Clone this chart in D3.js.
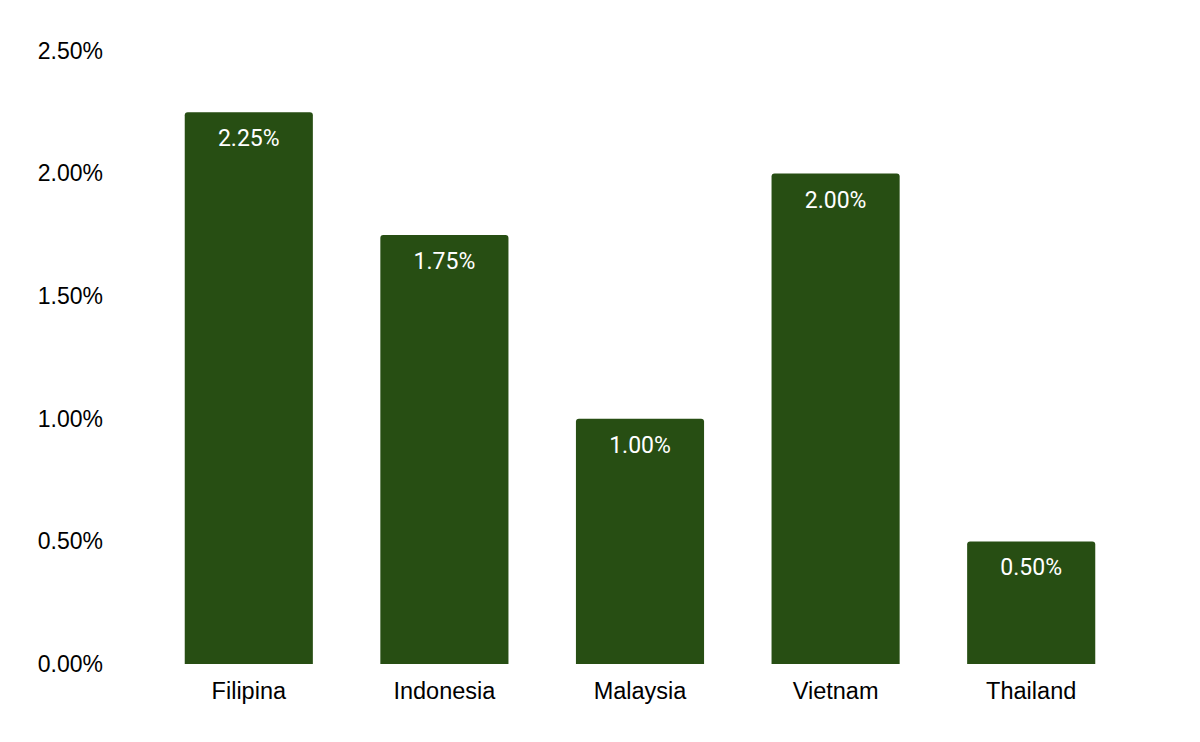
<!DOCTYPE html>
<html>
<head>
<meta charset="utf-8">
<script src="https://cdn.jsdelivr.net/npm/d3@7"></script>
<style>
  html, body { margin: 0; padding: 0; background: #fff; }
  svg { display: block; }
</style>
</head>
<body>
<svg id="chart" width="1200" height="742"></svg>
<script>
const categories = ["Filipina", "Indonesia", "Malaysia", "Vietnam", "Thailand"];
const values = [2.25, 1.75, 1.00, 2.00, 0.50];
const yTicks = [0, 0.5, 1.0, 1.5, 2.0, 2.5];

const svg = d3.select("#chart");
const x = d3.scaleBand().domain(categories).range([151, 1129]).paddingInner(0.345).paddingOuter(0.1725);
const y = d3.scaleLinear().domain([0, 2.5]).range([664, 51]);
const fmt = v => v.toFixed(2) + "%";

// Y axis labels
const yAxis = d3.axisLeft(y).tickValues(yTicks).tickFormat(fmt).tickSize(0).tickPadding(0);
const yg = svg.append("g").attr("transform", "translate(103,0)").call(yAxis);
yg.select(".domain").remove();
yg.selectAll("text").attr("font-family", "Arial, 'Liberation Sans', sans-serif").attr("font-size", 23).attr("fill", "#000");

// X axis labels
const xAxis = d3.axisBottom(x).tickSize(0).tickPadding(0);
const xg = svg.append("g").attr("transform", "translate(0,682)").call(xAxis);
xg.select(".domain").remove();
xg.selectAll("text").attr("font-family", "Arial, 'Liberation Sans', sans-serif").attr("font-size", 23.5).attr("fill", "#000").attr("dy", "0.71em");

// Bars with rounded top corners
const r = 3;
function barPath(d, i) {
  const x0 = x(categories[i]), w = x.bandwidth();
  const yt = y(d), yb = y(0);
  return `M${x0},${yb}V${yt + r}Q${x0},${yt} ${x0 + r},${yt}H${x0 + w - r}Q${x0 + w},${yt} ${x0 + w},${yt + r}V${yb}Z`;
}
svg.append("g").selectAll("path").data(values).join("path")
  .attr("d", barPath)
  .attr("fill", "#274e13");

// Value labels
svg.append("g").selectAll("text").data(values).join("text")
  .attr("x", (d, i) => x(categories[i]) + x.bandwidth() / 2)
  .attr("y", d => y(d) + 26)
  .attr("dy", "0.35em")
  .attr("text-anchor", "middle")
  .attr("font-family", "Roboto, sans-serif")
  .attr("font-size", 23)
  .attr("fill", "#fff")
  .text(fmt);
</script>
</body>
</html>
